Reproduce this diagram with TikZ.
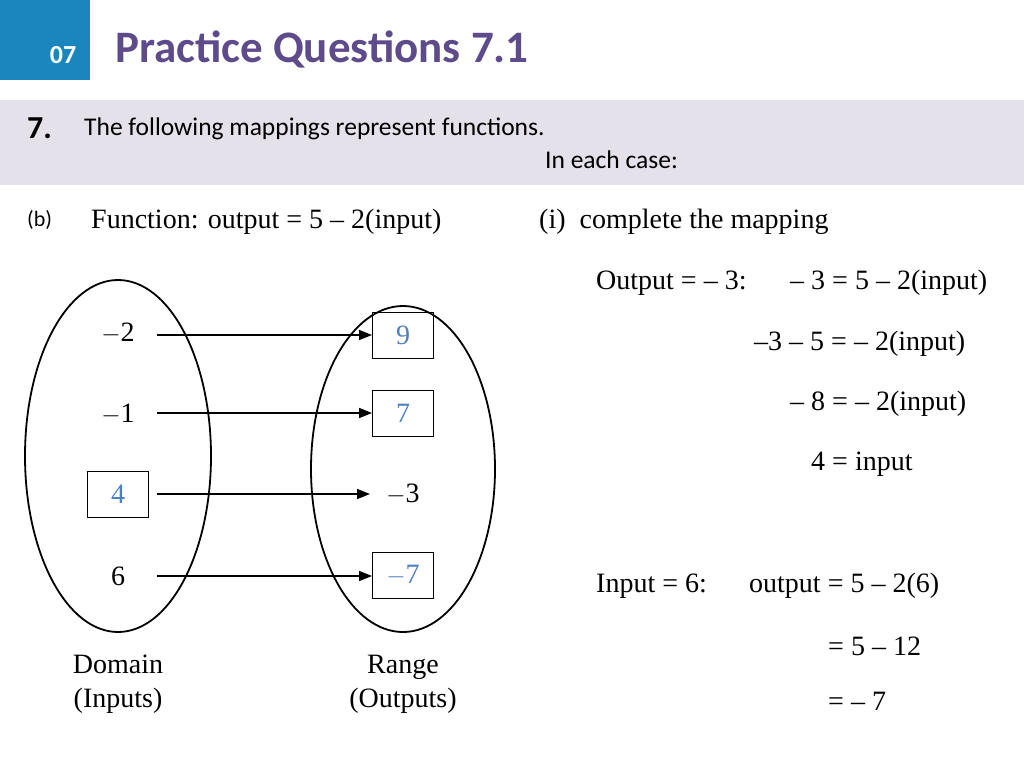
\documentclass[tikz,border=0pt]{standalone}
\usepackage{fontspec}
\setmainfont{Liberation Serif}
\newfontfamily\calfont{Carlito}
\usetikzlibrary{arrows.meta}
\definecolor{hblue}{HTML}{1A86BE}
\definecolor{hpurple}{HTML}{5E4B8B}
\definecolor{band}{HTML}{E4E1EA}
\definecolor{ans}{HTML}{4F7FBF}
\begin{document}
\begin{tikzpicture}[x=1pt,y=-1pt,
  t/.style={anchor=west,inner sep=0pt,font=\fontsize{28}{34}\selectfont},
  c/.style={inner sep=0pt,font=\fontsize{28}{34}\selectfont},
  bx/.style={draw,line width=1pt,minimum width=61pt,minimum height=46pt,inner sep=0pt,font=\fontsize{28}{34}\selectfont,text=ans},
  ar/.style={-{Triangle[length=13pt,width=10pt]},line width=1.6pt}]
\useasboundingbox (0,0) rectangle (1024,768);
\fill[white] (0,0) rectangle (1024,768);
\fill[hblue] (0,0) rectangle (90,80);
\node[text=white,font=\calfont\bfseries\fontsize{26}{30}\selectfont] (n07) at (63,55) {07};
\node[anchor=west,inner sep=0pt,text=hpurple,font=\calfont\bfseries\fontsize{45}{50}\selectfont] (title) at (115,50) {Practice Questions 7.1};
\fill[band] (0,100) rectangle (1024,185);
\node[anchor=west,inner sep=0pt,font=\calfont\bfseries\fontsize{32}{36}\selectfont] (q) at (27,128) {7.};
\node[anchor=west,inner sep=0pt,font=\calfont\fontsize{25.5}{30}\selectfont] (q1) at (84,129) {The following mappings represent functions.};
\node[anchor=west,inner sep=0pt,font=\calfont\fontsize{25.5}{30}\selectfont] (q2) at (545,160) {In each case:};
\node[anchor=west,inner sep=0pt,font=\calfont\fontsize{22}{26}\selectfont] (b) at (27,220) {(b)};
\node[t] (f) at (91,222) {Function: output = 5 -- 2(input)};
\node[t] (i) at (539,222) {(i)\hspace{14pt}complete the mapping};
\draw[line width=1.8pt] (118,456) ellipse [x radius=93, y radius=176];
\draw[line width=1.8pt] (403,469) ellipse [x radius=92, y radius=163];
\node[c] (d1) at (118,333) {$-$2};
\node[c] (d2) at (118,414) {$-$1};
\node[bx] (d3) at (118,494) {4};
\node[c] (d4) at (118,576) {6};
\node[bx] (r1) at (403,335) {9};
\node[bx] (r2) at (403,413) {7};
\node[c] (r3) at (403,494) {$-$3};
\node[bx] (r4) at (403,575) {$-$7};
\coordinate (s1) at (157,335); \coordinate (s2) at (157,413);
\coordinate (s3) at (157,494); \coordinate (s4) at (157,576);
\coordinate (e3) at (370,494);
\draw[ar] (s1) -- (r1.west);
\draw[ar] (s2) -- (r2.west);
\draw[ar] (s3) -- (e3);
\draw[ar] (s4) -- (r4.west|-s4);
\node[c,align=center] (dom) at (118,684) {Domain\\(Inputs)};
\node[c,align=center] (rng) at (403,684) {Range\\(Outputs)};
\node[t] (o1) at (596,283) {Output = -- 3:};
\node[t] (o2) at (790,283) {-- 3 = 5 -- 2(input)};
\node[t] (o3) at (754,344) {--3 -- 5 = -- 2(input)};
\node[t] (o4) at (790,404) {-- 8 = -- 2(input)};
\node[t] (o5) at (811,464) {4 = input};
\node[t] (p1) at (596,586) {Input = 6:};
\node[t] (p2) at (749,586) {output = 5 -- 2(6)};
\node[t] (p3) at (828,646) {= 5 -- 12};
\node[t] (p4) at (828,701) {= -- 7};
\end{tikzpicture}
\end{document}
